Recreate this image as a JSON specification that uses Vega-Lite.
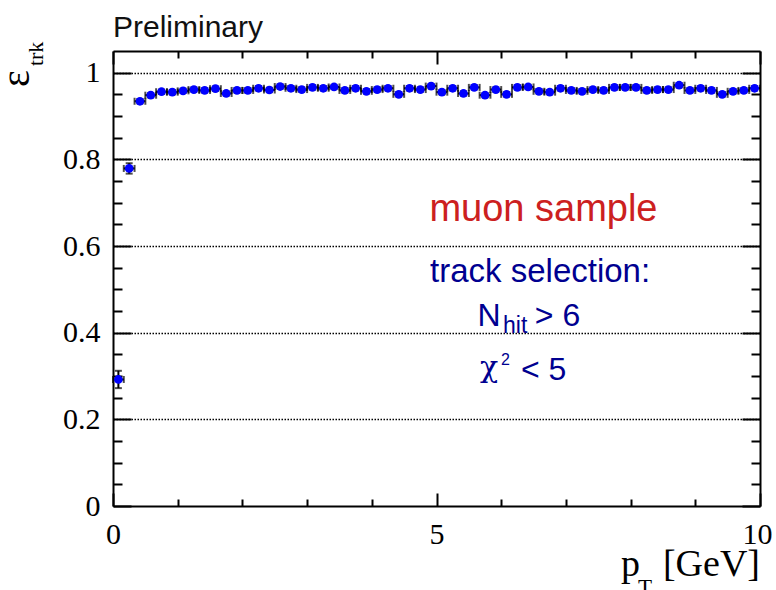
{
  "$schema": "https://vega.github.io/schema/vega-lite/v6.json",
  "width": 647,
  "height": 455,
  "autosize": {"type": "none"},
  "padding": {"left": 113, "top": 51, "right": 16, "bottom": 84},
  "background": "white",
  "config": {
    "view": {"stroke": null},
    "axis": {
      "domainColor": "black", "domainWidth": 2,
      "tickColor": "black", "tickWidth": 2,
      "labelFont": "Liberation Serif", "labelFontSize": 30, "labelColor": "black",
      "labelOverlap": false, "labelFlush": false
    }
  },
  "data": {"values": [
    {"pt": 0.0833, "dpt": 0.0833, "eff": 0.292, "deff": 0.02},
    {"pt": 0.25, "dpt": 0.0833, "eff": 0.779, "deff": 0.012},
    {"pt": 0.4167, "dpt": 0.0833, "eff": 0.934, "deff": 0.005},
    {"pt": 0.5833, "dpt": 0.0833, "eff": 0.948, "deff": 0.005},
    {"pt": 0.75, "dpt": 0.0833, "eff": 0.956, "deff": 0.005},
    {"pt": 0.9167, "dpt": 0.0833, "eff": 0.955, "deff": 0.005},
    {"pt": 1.0833, "dpt": 0.0833, "eff": 0.958, "deff": 0.005},
    {"pt": 1.25, "dpt": 0.0833, "eff": 0.961, "deff": 0.005},
    {"pt": 1.4167, "dpt": 0.0833, "eff": 0.959, "deff": 0.005},
    {"pt": 1.5833, "dpt": 0.0833, "eff": 0.963, "deff": 0.005},
    {"pt": 1.75, "dpt": 0.0833, "eff": 0.952, "deff": 0.005},
    {"pt": 1.9167, "dpt": 0.0833, "eff": 0.959, "deff": 0.005},
    {"pt": 2.0833, "dpt": 0.0833, "eff": 0.959, "deff": 0.005},
    {"pt": 2.25, "dpt": 0.0833, "eff": 0.964, "deff": 0.005},
    {"pt": 2.4167, "dpt": 0.0833, "eff": 0.96, "deff": 0.005},
    {"pt": 2.5833, "dpt": 0.0833, "eff": 0.968, "deff": 0.005},
    {"pt": 2.75, "dpt": 0.0833, "eff": 0.964, "deff": 0.005},
    {"pt": 2.9167, "dpt": 0.0833, "eff": 0.961, "deff": 0.005},
    {"pt": 3.0833, "dpt": 0.0833, "eff": 0.966, "deff": 0.005},
    {"pt": 3.25, "dpt": 0.0833, "eff": 0.964, "deff": 0.005},
    {"pt": 3.4167, "dpt": 0.0833, "eff": 0.967, "deff": 0.005},
    {"pt": 3.5833, "dpt": 0.0833, "eff": 0.959, "deff": 0.005},
    {"pt": 3.75, "dpt": 0.0833, "eff": 0.964, "deff": 0.005},
    {"pt": 3.9167, "dpt": 0.0833, "eff": 0.957, "deff": 0.005},
    {"pt": 4.0833, "dpt": 0.0833, "eff": 0.961, "deff": 0.005},
    {"pt": 4.25, "dpt": 0.0833, "eff": 0.964, "deff": 0.005},
    {"pt": 4.4167, "dpt": 0.0833, "eff": 0.95, "deff": 0.005},
    {"pt": 4.5833, "dpt": 0.0833, "eff": 0.964, "deff": 0.005},
    {"pt": 4.75, "dpt": 0.0833, "eff": 0.961, "deff": 0.005},
    {"pt": 4.9167, "dpt": 0.0833, "eff": 0.969, "deff": 0.005},
    {"pt": 5.0833, "dpt": 0.0833, "eff": 0.955, "deff": 0.005},
    {"pt": 5.25, "dpt": 0.0833, "eff": 0.964, "deff": 0.005},
    {"pt": 5.4167, "dpt": 0.0833, "eff": 0.952, "deff": 0.005},
    {"pt": 5.5833, "dpt": 0.0833, "eff": 0.966, "deff": 0.005},
    {"pt": 5.75, "dpt": 0.0833, "eff": 0.948, "deff": 0.005},
    {"pt": 5.9167, "dpt": 0.0833, "eff": 0.961, "deff": 0.005},
    {"pt": 6.0833, "dpt": 0.0833, "eff": 0.95, "deff": 0.005},
    {"pt": 6.25, "dpt": 0.0833, "eff": 0.966, "deff": 0.005},
    {"pt": 6.4167, "dpt": 0.0833, "eff": 0.967, "deff": 0.005},
    {"pt": 6.5833, "dpt": 0.0833, "eff": 0.957, "deff": 0.005},
    {"pt": 6.75, "dpt": 0.0833, "eff": 0.955, "deff": 0.005},
    {"pt": 6.9167, "dpt": 0.0833, "eff": 0.964, "deff": 0.005},
    {"pt": 7.0833, "dpt": 0.0833, "eff": 0.959, "deff": 0.005},
    {"pt": 7.25, "dpt": 0.0833, "eff": 0.957, "deff": 0.005},
    {"pt": 7.4167, "dpt": 0.0833, "eff": 0.961, "deff": 0.005},
    {"pt": 7.5833, "dpt": 0.0833, "eff": 0.959, "deff": 0.005},
    {"pt": 7.75, "dpt": 0.0833, "eff": 0.966, "deff": 0.005},
    {"pt": 7.9167, "dpt": 0.0833, "eff": 0.966, "deff": 0.005},
    {"pt": 8.0833, "dpt": 0.0833, "eff": 0.966, "deff": 0.005},
    {"pt": 8.25, "dpt": 0.0833, "eff": 0.959, "deff": 0.005},
    {"pt": 8.4167, "dpt": 0.0833, "eff": 0.961, "deff": 0.005},
    {"pt": 8.5833, "dpt": 0.0833, "eff": 0.961, "deff": 0.005},
    {"pt": 8.75, "dpt": 0.0833, "eff": 0.971, "deff": 0.005},
    {"pt": 8.9167, "dpt": 0.0833, "eff": 0.959, "deff": 0.005},
    {"pt": 9.0833, "dpt": 0.0833, "eff": 0.964, "deff": 0.005},
    {"pt": 9.25, "dpt": 0.0833, "eff": 0.959, "deff": 0.005},
    {"pt": 9.4167, "dpt": 0.0833, "eff": 0.95, "deff": 0.005},
    {"pt": 9.5833, "dpt": 0.0833, "eff": 0.957, "deff": 0.005},
    {"pt": 9.75, "dpt": 0.0833, "eff": 0.959, "deff": 0.005},
    {"pt": 9.9167, "dpt": 0.0833, "eff": 0.964, "deff": 0.005}
  ]},
  "layer": [
    {
      "mark": {"type": "errorbar", "ticks": {"color": "black"}, "rule": {"color": "black"}, "size": 7, "thickness": 2},
      "encoding": {
        "x": {"field": "pt", "type": "quantitative", "scale": {"domain": [0, 10], "nice": false, "zero": false},
          "axis": {"orient": "bottom", "values": [0,1,2,3,4,5,6,7,8,9,10], "format": "d",
            "labelExpr": "datum.value % 5 === 0 ? datum.label : ''",
            "labelFont": "Liberation Serif", "labelFontSize": 30, "labelColor": "black",
            "labelOffset": {"condition": {"test": "datum.value === 10", "value": -3}, "value": 0},
            "tickSize": {"condition": {"test": "datum.value % 5 === 0", "value": -13}, "value": -7},
            "labelPadding": 26, "grid": false, "title": null}},
        "xError": {"field": "dpt"},
        "y": {"field": "eff", "type": "quantitative", "scale": {"domain": [0, 1.05], "nice": false, "zero": false},
          "axis": {"orient": "left", "values": [0,0.05,0.1,0.15,0.2,0.25,0.3,0.35,0.4,0.45,0.5,0.55,0.6,0.65,0.7,0.75,0.8,0.85,0.9,0.95,1],
            "format": ".1~f",
            "labelExpr": "round(datum.value*100) % 20 === 0 ? datum.label : ''",
            "labelFont": "Liberation Serif", "labelFontSize": 30, "labelColor": "black",
            "tickSize": {"condition": {"test": "round(datum.value*100) % 20 === 0", "value": -18}, "value": -9},
            "labelPadding": 31, "grid": true, "gridColor": "black", "gridDash": [1.5, 1.5], "gridWidth": 1.5,
            "gridOpacity": {"condition": {"test": "round(datum.value*100) % 20 === 0 && datum.value > 0", "value": 1}, "value": 0},
            "title": null}}
      }
    },
    {
      "mark": {"type": "errorbar", "ticks": {"color": "black"}, "rule": {"color": "black"}, "size": 7, "thickness": 2},
      "encoding": {
        "x": {"field": "pt", "type": "quantitative", "scale": {"domain": [0, 10], "nice": false, "zero": false}, "axis": null},
        "y": {"field": "eff", "type": "quantitative", "scale": {"domain": [0, 1.05], "nice": false, "zero": false}, "axis": null},
        "yError": {"field": "deff"}
      }
    },
    {
      "mark": {"type": "point", "filled": true, "color": "#0000ff", "size": 76, "opacity": 1},
      "encoding": {
        "x": {"field": "pt", "type": "quantitative", "scale": {"domain": [0, 10], "nice": false, "zero": false},
          "axis": {"orient": "top", "values": [0,1,2,3,4,5,6,7,8,9,10], "labels": false,
            "tickSize": {"condition": {"test": "datum.value % 5 === 0", "value": -13}, "value": -7},
            "grid": false, "title": null}},
        "y": {"field": "eff", "type": "quantitative", "scale": {"domain": [0, 1.05], "nice": false, "zero": false},
          "axis": {"orient": "right", "values": [0,0.05,0.1,0.15,0.2,0.25,0.3,0.35,0.4,0.45,0.5,0.55,0.6,0.65,0.7,0.75,0.8,0.85,0.9,0.95,1],
            "labels": false,
            "tickSize": {"condition": {"test": "round(datum.value*100) % 20 === 0", "value": -18}, "value": -9},
            "grid": false, "title": null}}
      }
    },
    {
      "data": {"values": [{"t": "Preliminary"}]},
      "mark": {"type": "text", "align": "left", "baseline": "alphabetic", "font": "Liberation Sans", "fontSize": 30, "color": "#111111"},
      "encoding": {"text": {"field": "t"},
        "x": {"datum": 0.0, "type": "quantitative", "scale": {"domain": [0, 10], "nice": false, "zero": false}, "axis": null},
        "y": {"datum": 1.083, "type": "quantitative", "scale": {"domain": [0, 1.05], "nice": false, "zero": false}, "axis": null}}
    },
    {
      "data": {"values": [{"t": "muon sample"}]},
      "mark": {"type": "text", "align": "left", "baseline": "alphabetic", "font": "Liberation Sans", "fontSize": 38, "color": "#cc2020"},
      "encoding": {"text": {"field": "t"},
        "x": {"datum": 4.89, "type": "quantitative", "scale": {"domain": [0, 10], "nice": false, "zero": false}, "axis": null},
        "y": {"datum": 0.658, "type": "quantitative", "scale": {"domain": [0, 1.05], "nice": false, "zero": false}, "axis": null}}
    },
    {
      "data": {"values": [{"t": "track selection:"}]},
      "mark": {"type": "text", "align": "left", "baseline": "alphabetic", "font": "Liberation Sans", "fontSize": 33, "color": "#000090"},
      "encoding": {"text": {"field": "t"},
        "x": {"datum": 4.9, "type": "quantitative", "scale": {"domain": [0, 10], "nice": false, "zero": false}, "axis": null},
        "y": {"datum": 0.5175, "type": "quantitative", "scale": {"domain": [0, 1.05], "nice": false, "zero": false}, "axis": null}}
    },
    {
      "data": {"values": [{"t": "N"}]},
      "mark": {"type": "text", "align": "left", "baseline": "alphabetic", "font": "Liberation Sans", "fontSize": 32, "color": "#000090"},
      "encoding": {"text": {"field": "t"},
        "x": {"datum": 5.635, "type": "quantitative", "scale": {"domain": [0, 10], "nice": false, "zero": false}, "axis": null},
        "y": {"datum": 0.4153, "type": "quantitative", "scale": {"domain": [0, 1.05], "nice": false, "zero": false}, "axis": null}}
    },
    {
      "data": {"values": [{"t": "hit"}]},
      "mark": {"type": "text", "align": "left", "baseline": "alphabetic", "font": "Liberation Sans", "fontSize": 23, "color": "#000090"},
      "encoding": {"text": {"field": "t"},
        "x": {"datum": 6.028, "type": "quantitative", "scale": {"domain": [0, 10], "nice": false, "zero": false}, "axis": null},
        "y": {"datum": 0.4, "type": "quantitative", "scale": {"domain": [0, 1.05], "nice": false, "zero": false}, "axis": null}}
    },
    {
      "data": {"values": [{"t": "> 6"}]},
      "mark": {"type": "text", "align": "left", "baseline": "alphabetic", "font": "Liberation Sans", "fontSize": 32, "color": "#000090"},
      "encoding": {"text": {"field": "t"},
        "x": {"datum": 6.52, "type": "quantitative", "scale": {"domain": [0, 10], "nice": false, "zero": false}, "axis": null},
        "y": {"datum": 0.4153, "type": "quantitative", "scale": {"domain": [0, 1.05], "nice": false, "zero": false}, "axis": null}}
    },
    {
      "data": {"values": [{"t": "χ"}]},
      "mark": {"type": "text", "align": "left", "baseline": "alphabetic", "font": "DejaVu Serif", "fontSize": 30, "color": "#000090"},
      "encoding": {"text": {"field": "t"},
        "x": {"datum": 5.672, "type": "quantitative", "scale": {"domain": [0, 10], "nice": false, "zero": false}, "axis": null},
        "y": {"datum": 0.2977, "type": "quantitative", "scale": {"domain": [0, 1.05], "nice": false, "zero": false}, "axis": null}}
    },
    {
      "data": {"values": [{"t": "2"}]},
      "mark": {"type": "text", "align": "left", "baseline": "alphabetic", "font": "Liberation Sans", "fontSize": 16, "color": "#000090"},
      "encoding": {"text": {"field": "t"},
        "x": {"datum": 5.995, "type": "quantitative", "scale": {"domain": [0, 10], "nice": false, "zero": false}, "axis": null},
        "y": {"datum": 0.3253, "type": "quantitative", "scale": {"domain": [0, 1.05], "nice": false, "zero": false}, "axis": null}}
    },
    {
      "data": {"values": [{"t": "< 5"}]},
      "mark": {"type": "text", "align": "left", "baseline": "alphabetic", "font": "Liberation Sans", "fontSize": 32, "color": "#000090"},
      "encoding": {"text": {"field": "t"},
        "x": {"datum": 6.306, "type": "quantitative", "scale": {"domain": [0, 10], "nice": false, "zero": false}, "axis": null},
        "y": {"datum": 0.2907, "type": "quantitative", "scale": {"domain": [0, 1.05], "nice": false, "zero": false}, "axis": null}}
    },
    {
      "data": {"values": [{"t": "p"}]},
      "mark": {"type": "text", "align": "left", "baseline": "alphabetic", "font": "Liberation Serif", "fontSize": 38, "color": "black"},
      "encoding": {"text": {"field": "t"},
        "x": {"datum": 7.852, "type": "quantitative", "scale": {"domain": [0, 10], "nice": false, "zero": false}, "axis": null},
        "y": {"datum": -0.1615, "type": "quantitative", "scale": {"domain": [0, 1.05], "nice": false, "zero": false}, "axis": null}}
    },
    {
      "data": {"values": [{"t": "T"}]},
      "mark": {"type": "text", "align": "left", "baseline": "alphabetic", "font": "Liberation Serif", "fontSize": 23, "color": "black"},
      "encoding": {"text": {"field": "t"},
        "x": {"datum": 8.114, "type": "quantitative", "scale": {"domain": [0, 10], "nice": false, "zero": false}, "axis": null},
        "y": {"datum": -0.205, "type": "quantitative", "scale": {"domain": [0, 1.05], "nice": false, "zero": false}, "axis": null}}
    },
    {
      "data": {"values": [{"t": "[GeV]"}]},
      "mark": {"type": "text", "align": "right", "baseline": "alphabetic", "font": "Liberation Serif", "fontSize": 38, "color": "black"},
      "encoding": {"text": {"field": "t"},
        "x": {"datum": 10, "type": "quantitative", "scale": {"domain": [0, 10], "nice": false, "zero": false}, "axis": null},
        "y": {"datum": -0.1615, "type": "quantitative", "scale": {"domain": [0, 1.05], "nice": false, "zero": false}, "axis": null}}
    },
    {
      "data": {"values": [{"t": "ε"}]},
      "mark": {"type": "text", "align": "left", "baseline": "alphabetic", "angle": 270, "font": "Liberation Serif", "fontSize": 40, "color": "black"},
      "encoding": {"text": {"field": "t"},
        "x": {"datum": -1.298, "type": "quantitative", "scale": {"domain": [0, 10], "nice": false, "zero": false}, "axis": null},
        "y": {"datum": 0.9668, "type": "quantitative", "scale": {"domain": [0, 1.05], "nice": false, "zero": false}, "axis": null}}
    },
    {
      "data": {"values": [{"t": "trk"}]},
      "mark": {"type": "text", "align": "left", "baseline": "alphabetic", "angle": 270, "font": "Liberation Serif", "fontSize": 22, "color": "black"},
      "encoding": {"text": {"field": "t"},
        "x": {"datum": -1.082, "type": "quantitative", "scale": {"domain": [0, 10], "nice": false, "zero": false}, "axis": null},
        "y": {"datum": 1.0152, "type": "quantitative", "scale": {"domain": [0, 1.05], "nice": false, "zero": false}, "axis": null}}
    }
  ],
  "resolve": {"axis": {"x": "independent", "y": "independent"}}
}
